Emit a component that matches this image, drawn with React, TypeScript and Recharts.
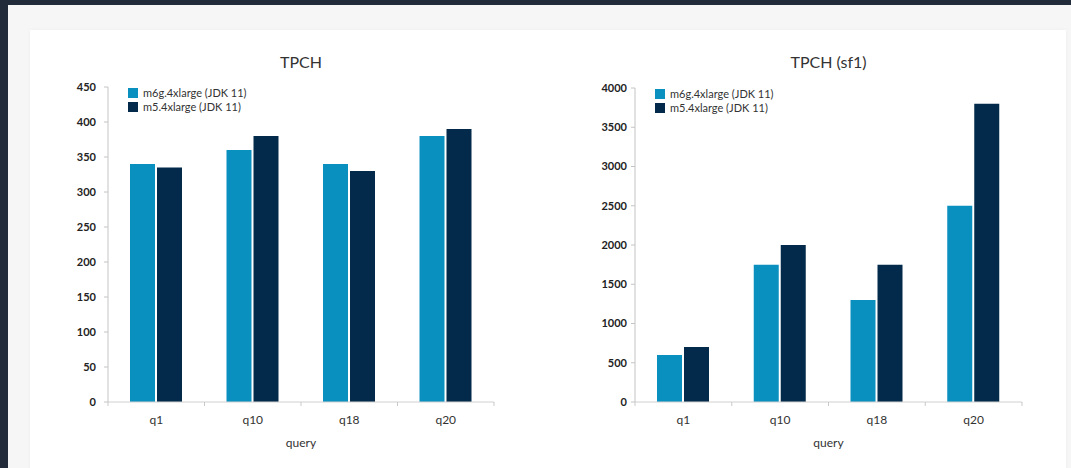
import React from "react";
import { BarChart, Bar, XAxis, YAxis } from "recharts";

const queries = ["q1", "q10", "q18", "q20"];
const tpchM6g = [340, 360, 340, 380];
const tpchM5 = [335, 380, 330, 390];
const sf1M6g = [600, 1750, 1300, 2500];
const sf1M5 = [700, 2000, 1750, 3800];
const tpchTicks = [0, 50, 100, 150, 200, 250, 300, 350, 400, 450];
const sf1Ticks = [0, 500, 1000, 1500, 2000, 2500, 3000, 3500, 4000];
const seriesNames = ["m6g.4xlarge (JDK 11)", "m5.4xlarge (JDK 11)"];

const BLUE = "#0a90bf";
const NAVY = "#032a4a";
const FONT = "Lato, 'Open Sans', sans-serif";

const tpchData = queries.map((q, i) => ({ query: q, m6g: tpchM6g[i], m5: tpchM5[i] }));
const sf1Data = queries.map((q, i) => ({ query: q, m6g: sf1M6g[i], m5: sf1M5[i] }));

// x ticks: label at the category centre, tick marks on the band edges (Excel style)
const makeTick = (plotW: number, count: number) => (props: any) => {
  const { x, y, payload, index } = props;
  const band = plotW / count;
  return (
    <g>
      <line x1={x - band / 2} x2={x - band / 2} y1={y} y2={y + 4} stroke="#c9c9c9" />
      {index === count - 1 && (
        <line x1={x + band / 2} x2={x + band / 2} y1={y} y2={y + 4} stroke="#c9c9c9" />
      )}
      <text x={x} y={y + 22} textAnchor="middle" fill="#333" fontSize={12} fontFamily={FONT}>
        {payload.value}
      </text>
    </g>
  );
};

// legend drawn as html so it does not eat into the plot area
const LegendBox = ({ left, top }: { left: number; top: number }) => (
  <div
    style={{
      position: "absolute",
      left,
      top,
      fontFamily: FONT,
      fontSize: 11,
      color: "#333",
      lineHeight: "14px",
      whiteSpace: "nowrap",
    }}
  >
    {seriesNames.map((name, i) => (
      <div key={name} style={{ display: "flex", alignItems: "center" }}>
        <span
          style={{
            display: "inline-block",
            width: 10,
            height: 10,
            background: i === 0 ? BLUE : NAVY,
            marginRight: 5,
          }}
        />
        {name}
      </div>
    ))}
  </div>
);

interface PanelProps {
  data: any[];
  ticks: number[];
  title: string;
  left: number;
  marginLeft: number;
  marginRight: number;
  marginTop: number;
  tickMargin: number;
}

function Panel({ data, ticks, title, left, marginLeft, marginRight, marginTop, tickMargin }: PanelProps) {
  const width = 520;
  const height = 468;
  const yWidth = 60;
  const plotW = width - marginLeft - yWidth - marginRight;
  const plotCx = marginLeft + yWidth + plotW / 2;
  return (
    <div style={{ position: "absolute", left, top: 0, width, height }}>
      <div
        style={{
          position: "absolute",
          left: plotCx - 100,
          width: 200,
          top: 52,
          textAlign: "center",
          fontFamily: FONT,
          fontSize: 16,
          color: "#333",
        }}
      >
        {title}
      </div>
      <BarChart
        width={width}
        height={height}
        data={data}
        margin={{ top: marginTop, right: marginRight, left: marginLeft, bottom: 20 }}
        barSize={25}
        barGap={2}
      >
        <XAxis
          dataKey="query"
          height={46}
          stroke="#d0d0d0"
          tickLine={false}
          tickSize={0}
          tickMargin={0}
          tick={makeTick(plotW, queries.length)}
          label={{
            value: "query",
            position: "insideBottom",
            offset: 1,
            fill: "#333",
            fontSize: 12,
            fontFamily: FONT,
          }}
        />
        <YAxis
          width={yWidth}
          ticks={ticks}
          domain={[0, ticks[ticks.length - 1]]}
          interval={0}
          stroke="#c4c4c4"
          tickSize={4}
          tickMargin={tickMargin}
          tick={{ fill: "#222", fontSize: 11, fontWeight: 700, fontFamily: FONT }}
        />
        <Bar dataKey="m6g" name={seriesNames[0]} fill={BLUE} isAnimationActive={false} />
        <Bar dataKey="m5" name={seriesNames[1]} fill={NAVY} isAnimationActive={false} />
      </BarChart>
      <LegendBox left={marginLeft + yWidth + 20} top={marginTop - 1} />
    </div>
  );
}

export default function App() {
  return (
    <div
      style={{
        position: "fixed",
        left: 0,
        top: 0,
        width: 1071,
        height: 468,
        background: "#212b3a",
        overflow: "hidden",
      }}
    >
      <div style={{ position: "absolute", left: 8, top: 5, right: 0, bottom: -20, background: "#f6f6f6" }} />
      <div
        style={{
          position: "absolute",
          left: 30,
          top: 30,
          width: 1036,
          bottom: -20,
          background: "#ffffff",
          boxShadow: "0 0 4px rgba(0,0,0,0.04)",
        }}
      />
      <Panel
        data={tpchData}
        ticks={tpchTicks}
        title="TPCH"
        left={0}
        marginLeft={48}
        marginRight={26}
        marginTop={87}
        tickMargin={8}
      />
      <Panel
        data={sf1Data}
        ticks={sf1Ticks}
        title="TPCH (sf1)"
        left={530}
        marginLeft={45}
        marginRight={28}
        marginTop={88}
        tickMargin={4}
      />
    </div>
  );
}
